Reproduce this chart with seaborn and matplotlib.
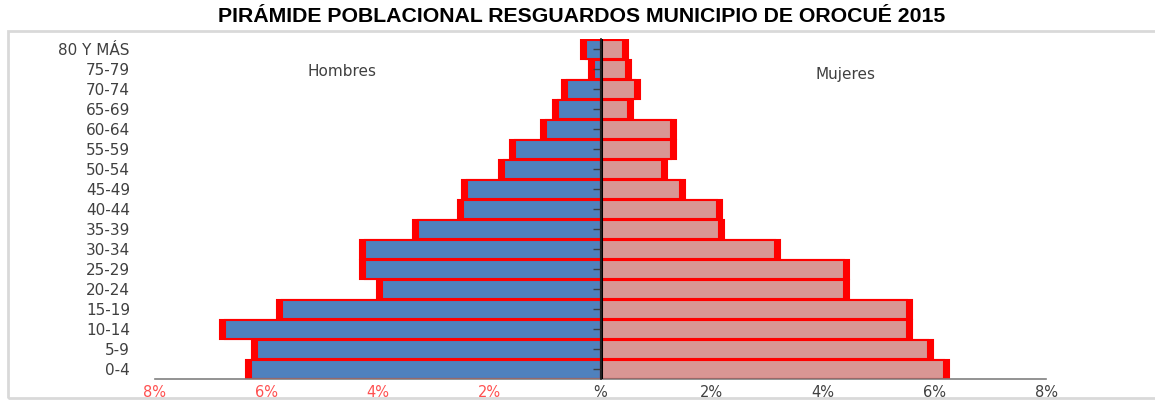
import matplotlib
matplotlib.use("Agg")
import matplotlib.pyplot as plt
import matplotlib.patches as mpatches
import seaborn as sns
import pandas as pd
import numpy as np

# ---------------- data ----------------
age_groups = ["80 Y MÁS", "75-79", "70-74", "65-69", "60-64", "55-59", "50-54",
              "45-49", "40-44", "35-39", "30-34", "25-29", "20-24", "15-19",
              "10-14", "5-9", "0-4"]
hombres = [0.31, 0.16, 0.64, 0.80, 1.02, 1.58, 1.77, 2.45, 2.51, 3.32, 4.27,
           4.27, 3.96, 5.76, 6.79, 6.22, 6.32]
mujeres = [0.45, 0.51, 0.67, 0.54, 1.31, 1.31, 1.15, 1.47, 2.14, 2.17, 3.17,
           4.42, 4.42, 5.55, 5.55, 5.92, 6.21]
x_ticks = [-8, -6, -4, -2, 0, 2, 4, 6, 8]
x_tick_labels = ["8%", "6%", "4%", "2%", "%", "2%", "4%", "6%", "8%"]
title = "PIRÁMIDE POBLACIONAL RESGUARDOS MUNICIPIO DE OROCUÉ 2015"

df = pd.DataFrame({"edad": age_groups, "h": hombres, "m": mujeres})
edge_pad = 0.045
df["h_back"] = -(df["h"] + edge_pad)
df["h_front"] = -(df["h"] - edge_pad)
df["m_back"] = df["m"] + edge_pad
df["m_front"] = df["m"] - edge_pad

sns.set_theme(style="white")
plt.rcParams["font.family"] = ["DejaVu Sans"]

fig = plt.figure(figsize=(11.55, 4.0), dpi=100)
ax = fig.add_axes([155 / 1155, 1 - 379 / 400, (1046 - 155) / 1155, (379 - 39) / 400])

RED = "#ff0000"
BLUE = "#4f81bd"
PINK = "#d99694"
W = 0.95

for col in ["h_back", "m_back"]:
    sns.barplot(data=df, x=col, y="edad", order=age_groups, orient="h",
                color=RED, saturation=1, width=W, edgecolor=RED, linewidth=1.5, ax=ax)
sns.barplot(data=df, x="h_front", y="edad", order=age_groups, orient="h",
            color=BLUE, saturation=1, width=W, edgecolor=RED, linewidth=1.5, ax=ax)
sns.barplot(data=df, x="m_front", y="edad", order=age_groups, orient="h",
            color=PINK, saturation=1, width=W, edgecolor=RED, linewidth=1.5, ax=ax)

ax.set_xlim(-8, 8)
ax.set_ylim(len(age_groups) - 0.5, -0.5)
ax.set_xlabel("")
ax.set_ylabel("")

for s in ["top", "right", "left"]:
    ax.spines[s].set_visible(False)
ax.spines["bottom"].set_color("#808080")
ax.spines["bottom"].set_linewidth(1.2)

ax.set_xticks(x_ticks)
ax.set_xticklabels(x_tick_labels, fontsize=10.5)
for lbl, v in zip(ax.get_xticklabels(), x_ticks):
    lbl.set_color("#ff5050" if v < 0 else "#404040")
ax.tick_params(axis="x", direction="out", length=4, width=1, color="#606060", pad=0)

ax.set_yticks(range(len(age_groups)))
ax.set_yticklabels(age_groups, fontsize=11, color="#404040")
ax.tick_params(axis="y", length=0, pad=18)

# central axis
ax.axvline(0, color="black", linewidth=2.2, zorder=6)
sec = ax.secondary_yaxis(0.5)
sec.spines["left"].set_visible(False)
sec.set_yticks(range(len(age_groups)))
sec.set_yticklabels([])
sec.tick_params(axis="y", direction="in", length=6, width=1, color="#404040")
sec.set_zorder(7)

ax.text(-4.65, 1.15, "Hombres", ha="center", va="center", fontsize=11, color="#404040")
ax.text(4.4, 1.25, "Mujeres", ha="center", va="center", fontsize=11, color="#404040")

fig.text(582 / 1155, 1 - 16 / 400, title, ha="center", va="center",
         fontsize=15.3, fontweight="bold", family="Liberation Sans", color="black")

# light frame around the chart area
fig.add_artist(mpatches.Rectangle((8 / 1155, 1 - 398 / 400), 1.2, (398 - 31) / 400,
                                  transform=fig.transFigure, fill=False,
                                  edgecolor="#d9d9d9", linewidth=2, zorder=0))

fig.savefig("out.png", dpi=100)
